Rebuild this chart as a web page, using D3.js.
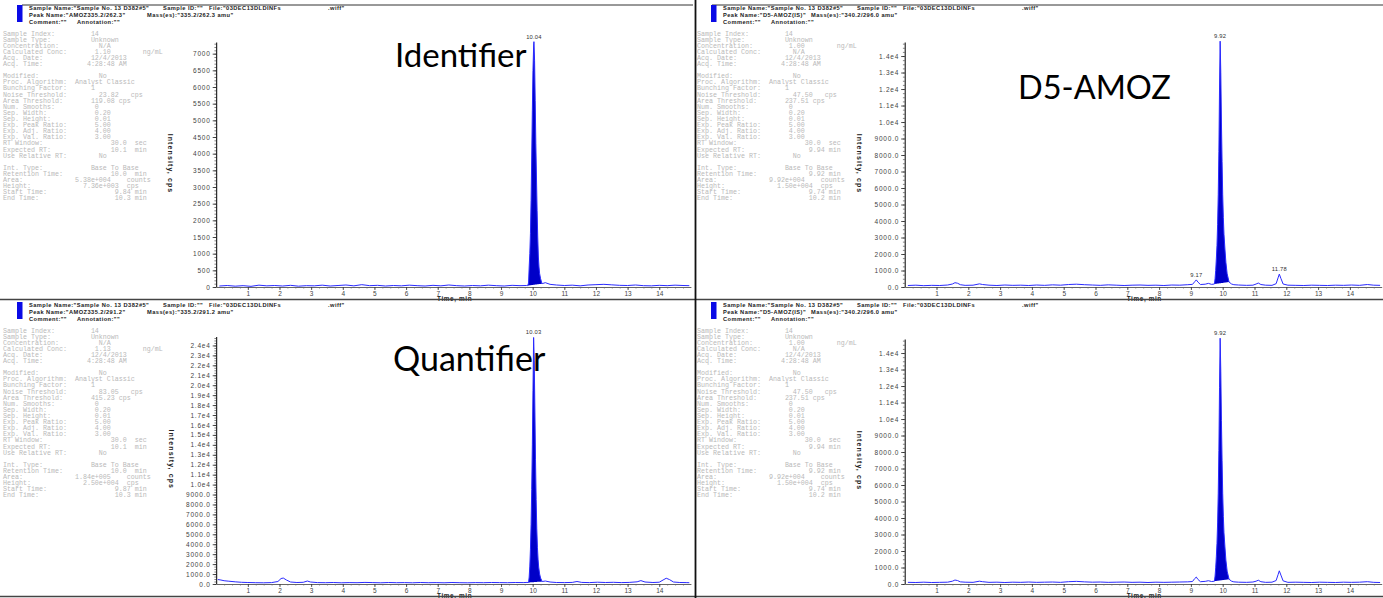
<!DOCTYPE html>
<html>
<head>
<meta charset="utf-8">
<script src="https://cdn.jsdelivr.net/npm/d3@7"></script>
<style>
  html, body { margin: 0; padding: 0; background: #fff; }
  svg { display: block; }
</style>
</head>
<body>
<svg id="chart" width="1383" height="598"></svg>
<script>
// ---------- chromatogram data: [time (min), intensity (cps)] ----------
const identifierTrace = [
  [0.10,30],[0.35,45],[0.60,25],[0.85,40],[1.10,20],[1.35,55],[1.60,35],[1.85,45],[2.10,30],[2.35,50],
  [2.60,25],[2.85,40],[3.10,35],[3.35,55],[3.60,30],[3.85,45],[4.10,60],[4.35,35],[4.60,70],[4.85,40],
  [5.10,50],[5.35,30],[5.60,45],[5.85,35],[6.10,55],[6.35,40],[6.60,30],[6.85,50],[7.10,35],[7.35,60],
  [7.60,40],[7.85,30],[8.10,45],[8.35,35],[8.60,55],[8.85,40],[9.10,30],[9.35,50],[9.60,40],[9.80,45],
  [9.84,40],[9.87,120],[9.89,600],[9.91,1000],[9.93,1600],[9.95,2600],[9.97,3900],[9.99,5300],[10.01,6500],
  [10.03,7200],[10.04,7360],[10.06,6800],[10.08,5600],[10.10,4300],[10.12,3300],[10.14,2300],[10.16,1500],
  [10.18,900],[10.20,600],[10.22,400],[10.25,250],[10.28,150],[10.30,100],
  [10.40,130],[10.55,80],[10.75,60],[11.00,45],[11.25,55],[11.50,35],[11.75,60],[12.00,70],[12.25,80],
  [12.50,65],[12.75,50],[13.00,45],[13.25,60],[13.50,40],[13.75,35],[14.00,50],[14.25,40],[14.50,55],
  [14.75,45],[14.95,40]
];
const d5TraceTop = [
  [0.10,90],[0.35,110],[0.60,80],[0.85,100],[1.10,90],[1.35,120],[1.50,180],[1.58,260],[1.66,230],[1.75,140],
  [1.90,100],[2.15,110],[2.35,190],[2.45,150],[2.65,110],[2.90,90],[3.15,120],[3.40,100],[3.65,110],[3.90,90],
  [4.15,120],[4.40,100],[4.65,130],[4.90,110],[5.15,150],[5.40,170],[5.65,140],[5.90,120],[6.15,100],[6.40,130],
  [6.65,110],[6.90,90],[7.15,110],[7.40,120],[7.65,100],[7.90,110],[8.15,90],[8.40,120],[8.65,110],[8.90,140],
  [9.05,160],[9.12,320],[9.17,430],[9.22,300],[9.30,150],[9.45,170],[9.55,220],[9.65,160],
  [9.74,180],[9.76,500],[9.78,1000],[9.80,1700],[9.82,2500],[9.84,3800],[9.86,5600],[9.88,8200],[9.90,12000],
  [9.92,14900],[9.94,13000],[9.96,10000],[9.98,7600],[10.00,5600],[10.02,4200],[10.04,3200],[10.07,2300],
  [10.10,1500],[10.14,800],[10.20,300],
  [10.28,180],[10.35,140],[10.50,120],[10.75,100],[10.95,110],[11.05,180],[11.12,240],[11.20,150],[11.35,110],
  [11.55,100],[11.68,200],[11.74,550],[11.78,780],[11.83,520],[11.90,180],[12.05,110],[12.30,100],[12.55,90],
  [12.80,110],[13.05,100],[13.30,90],[13.55,110],[13.80,100],[14.05,120],[14.30,100],[14.55,150],[14.75,110],
  [14.95,100]
];
const quantifierTrace = [
  [0.05,450],[0.15,400],[0.25,330],[0.40,280],[0.60,220],[0.80,170],[1.00,150],[1.25,130],[1.50,120],[1.75,140],
  [1.95,250],[2.05,550],[2.12,600],[2.22,400],[2.35,200],[2.55,150],[2.75,170],[2.88,300],[2.98,200],[3.20,140],
  [3.45,130],[3.70,150],[3.95,120],[4.20,140],[4.45,130],[4.70,160],[4.95,140],[5.20,120],[5.45,150],[5.70,130],
  [5.95,140],[6.20,120],[6.45,150],[6.70,130],[6.95,140],[7.20,120],[7.45,150],[7.70,130],[7.95,120],[8.20,140],
  [8.45,130],[8.70,150],[8.95,140],[9.20,130],[9.45,150],[9.70,140],[9.82,160],
  [9.87,150],[9.89,700],[9.91,1800],[9.93,3500],[9.95,6000],[9.97,9500],[9.99,14000],[10.01,19500],[10.03,24800],
  [10.05,22500],[10.07,17500],[10.09,12500],[10.11,8500],[10.13,5600],[10.15,3700],[10.17,2500],[10.19,1700],
  [10.22,1000],[10.25,600],[10.30,250],
  [10.40,300],[10.55,200],[10.75,150],[11.00,140],[11.25,160],[11.40,250],[11.55,160],[11.80,140],[12.05,180],
  [12.30,150],[12.55,170],[12.80,140],[13.05,160],[13.30,220],[13.42,340],[13.55,200],[13.80,150],[14.00,180],
  [14.12,400],[14.22,580],[14.32,450],[14.45,200],[14.65,150],[14.85,140],[14.95,130]
];
const d5TraceBottom = [
  [0.10,100],[0.35,90],[0.60,110],[0.85,90],[1.10,100],[1.35,110],[1.50,170],[1.58,240],[1.66,210],[1.75,130],
  [1.90,110],[2.15,100],[2.35,170],[2.45,140],[2.65,100],[2.90,110],[3.15,90],[3.40,110],[3.65,100],[3.90,120],
  [4.15,100],[4.40,110],[4.65,120],[4.90,100],[5.15,140],[5.40,160],[5.65,130],[5.90,110],[6.15,120],[6.40,100],
  [6.65,110],[6.90,120],[7.15,100],[7.40,110],[7.65,90],[7.90,110],[8.15,100],[8.40,110],[8.65,120],[8.90,130],
  [9.05,150],[9.12,330],[9.17,420],[9.22,280],[9.30,140],[9.45,160],[9.55,200],[9.65,150],
  [9.74,170],[9.76,480],[9.78,980],[9.80,1650],[9.82,2450],[9.84,3700],[9.86,5500],[9.88,8100],[9.90,11900],
  [9.92,14900],[9.94,12900],[9.96,9900],[9.98,7500],[10.00,5500],[10.02,4100],[10.04,3100],[10.07,2250],
  [10.10,1450],[10.14,780],[10.20,290],
  [10.28,170],[10.35,130],[10.50,110],[10.75,100],[10.95,120],[11.05,170],[11.12,230],[11.20,140],[11.35,100],
  [11.55,110],[11.68,210],[11.74,560],[11.78,800],[11.83,540],[11.90,190],[12.05,100],[12.30,110],[12.55,100],
  [12.80,90],[13.05,110],[13.30,100],[13.55,90],[13.80,110],[14.05,100],[14.30,110],[14.55,140],[14.75,100],
  [14.95,90]
];

// integrated peak windows (start, end in min)
const identifierPeak = [9.84, 10.30];
const d5PeakTop = [9.74, 10.20];
const quantifierPeak = [9.87, 10.30];
const d5PeakBottom = [9.74, 10.20];

// retention times annotated above peaks
const identifierPeakLabels = [10.04];
const d5PeakLabelsTop = [9.17, 9.92, 11.78];
const quantifierPeakLabels = [10.03];
const d5PeakLabelsBottom = [9.92];

// axis ticks
const timeTicks = [1,2,3,4,5,6,7,8,9,10,11,12,13,14];
const identifierYTicks = [0,500,1000,1500,2000,2500,3000,3500,4000,4500,5000,5500,6000,6500,7000];
const d5YTicks = [0,1000,2000,3000,4000,5000,6000,7000,8000,9000,10000,11000,12000,13000,14000];
const quantifierYTicks = [0,1000,2000,3000,4000,5000,6000,7000,8000,9000,10000,11000,12000,13000,14000,
  15000,16000,17000,18000,19000,20000,21000,22000,23000,24000];

// ---------- text blocks ----------
const row = (label, value, vcol, unit, ucol) => {
  let s = label.padEnd(vcol) + value;
  if (unit) s = s.padEnd(ucol) + unit;
  return s;
};
function infoLines(p) {
  return [
    row("Sample Index:", "14", 22),
    row("Sample Type:", "Unknown", 22),
    row("Concentration:", p.conc, p.conc === "N/A" ? 24 : 23, p.conc === "N/A" ? "" : "ng/mL", 35),
    row("Calculated Conc:", p.calc, p.calc === "N/A" ? 24 : 23, p.calc === "N/A" ? "" : "ng/mL", 35),
    row("Acq. Date:", "12/4/2013", 22),
    row("Acq. Time:", "4:28:48 AM", 21),
    "",
    row("Modified:", "No", 24),
    row("Proc. Algorithm:", "Analyst Classic", 18),
    row("Bunching Factor:", "1", 22),
    row("Noise Threshold:", p.noise, 24, "cps", 32),
    row("Area Threshold:", p.areaThr, 22, "cps", 29),
    row("Num. Smooths:", "0", 23),
    row("Sep. Width:", "0.20", 23),
    row("Sep. Height:", "0.01", 23),
    row("Exp. Peak Ratio:", "5.00", 23),
    row("Exp. Adj. Ratio:", "4.00", 23),
    row("Exp. Val. Ratio:", "3.00", 23),
    row("RT Window:", "30.0", 27, "sec", 33),
    row("Expected RT:", p.expRT, p.expRT[1] === "." ? 28 : 27, "min", 33),
    row("Use Relative RT:", "No", 24),
    "",
    row("Int. Type:", "Base To Base", 22),
    row("Retention Time:", p.rt, p.rt[1] === "." ? 28 : 27, "min", 33),
    row("Area:", p.area, 18, "counts", 31),
    row("Height:", p.height, 20, "cps", 31),
    row("Start Time:", p.start, 28, "min", 33),
    row("End Time:", p.end, 28, "min", 33)
  ];
}
const identifierInfo = infoLines({conc:"N/A", calc:"1.10", noise:"23.82", areaThr:"119.08", expRT:"10.1",
  rt:"10.0", area:"5.38e+004", height:"7.36e+003", start:"9.84", end:"10.3"});
const d5InfoTop = infoLines({conc:"1.00", calc:"N/A", noise:"47.50", areaThr:"237.51", expRT:"9.94",
  rt:"9.92", area:"9.92e+004", height:"1.50e+004", start:"9.74", end:"10.2"});
const quantifierInfo = infoLines({conc:"N/A", calc:"1.13", noise:"83.05", areaThr:"415.23", expRT:"10.1",
  rt:"10.0", area:"1.84e+005", height:"2.50e+004", start:"9.87", end:"10.3"});
const d5InfoBottom = infoLines({conc:"1.00", calc:"N/A", noise:"47.50", areaThr:"237.51", expRT:"9.94",
  rt:"9.92", area:"9.92e+004", height:"1.50e+004", start:"9.74", end:"10.2"});

const headerSampleName = 'Sample Name:"Sample No. 13 D382#5"';
const headerSampleId = 'Sample ID:""';
const headerFile = 'File:"03DEC13DLDINFs';
const headerFileExt = '.wiff"';
const headerComment = 'Comment:""';
const headerAnnotation = 'Annotation:""';

const plainFmt = d => String(d);
const expFmt = d => d >= 10000 ? (d / 10000).toFixed(1) + "e4" : d.toFixed(1);
const nbsp = s => s.replace(/ /g, "\u00A0");

// ---------- panel layout ----------
const panels = [
  { trace: identifierTrace, peak: identifierPeak, labels: identifierPeakLabels, yTicks: identifierYTicks,
    yFmt: plainFmt, yMax: 7350, minor: 100, info: identifierInfo, peakName: 'Peak Name:"AMOZ335.2/262.3"',
    mass: 'Mass(es):"335.2/262.3 amu"', massX: 147, title: "Identifier", titleSize: 33,
    tx: 0, oy: 0, x0: 216.2, x1: 690.9, yb: 287, yt: 42, ylabX: 168, titleX: 395, titleY: 67 },
  { trace: d5TraceTop, peak: d5PeakTop, labels: d5PeakLabelsTop, yTicks: d5YTicks,
    yFmt: expFmt, yMax: 14850, minor: 250, info: d5InfoTop, peakName: 'Peak Name:"D5-AMOZ(IS)"',
    mass: 'Mass(es):"340.2/296.0 amu"', massX: 117, title: "D5-AMOZ", titleSize: 32.5,
    tx: 694, oy: 0, x0: 904.7, x1: 1381.7, yb: 287, yt: 42, ylabX: 857, titleX: 1018, titleY: 99 },
  { trace: quantifierTrace, peak: quantifierPeak, labels: quantifierPeakLabels, yTicks: quantifierYTicks,
    yFmt: expFmt, yMax: 24900, minor: 250, info: quantifierInfo, peakName: 'Peak Name:"AMOZ335.2/291.2"',
    mass: 'Mass(es):"335.2/291.2 amu"', massX: 147, title: "Quantifier", titleSize: 34,
    tx: 0, oy: 297, x0: 216.2, x1: 690.9, yb: 584, yt: 336.5, ylabX: 169, titleX: 393, titleY: 371 },
  { trace: d5TraceBottom, peak: d5PeakBottom, labels: d5PeakLabelsBottom, yTicks: d5YTicks,
    yFmt: expFmt, yMax: 14850, minor: 250, info: d5InfoBottom, peakName: 'Peak Name:"D5-AMOZ(IS)"',
    mass: 'Mass(es):"340.2/296.0 amu"', massX: 117, title: null,
    tx: 694, oy: 297, x0: 904.7, x1: 1381.7, yb: 584, yt: 339, ylabX: 857 }
];

const svg = d3.select("#chart");
const SANS = "Liberation Sans, Arial, sans-serif";

// frame lines at the top of the two upper report pages
svg.append("line").attr("x1", 22).attr("x2", 693).attr("y1", 5).attr("y2", 5)
  .attr("stroke", "#333").attr("stroke-width", 1);
svg.append("line").attr("x1", 712).attr("x2", 1383).attr("y1", 5).attr("y2", 5)
  .attr("stroke", "#333").attr("stroke-width", 1);

panels.forEach(p => {
  const g = svg.append("g");

  // header block
  g.append("rect").attr("x", p.tx + 17).attr("y", p.oy + 5).attr("width", 5.5).attr("height", 17)
    .attr("fill", "#0a0ae6");
  const hdr = g.append("g").attr("font-family", SANS)
    .attr("font-size", 5.7).attr("font-weight", "bold").attr("fill", "#1a1a1a")
    .attr("letter-spacing", 0.45);
  const hx = p.tx + 29;
  hdr.append("text").attr("x", hx).attr("y", p.oy + 10).text(headerSampleName);
  hdr.append("text").attr("x", hx + 134).attr("y", p.oy + 10).text(headerSampleId);
  hdr.append("text").attr("x", hx + 180).attr("y", p.oy + 10).text(headerFile);
  hdr.append("text").attr("x", hx + 299).attr("y", p.oy + 10).text(headerFileExt);
  hdr.append("text").attr("x", hx).attr("y", p.oy + 17).text(p.peakName);
  hdr.append("text").attr("x", p.tx + p.massX).attr("y", p.oy + 17).text(p.mass);
  hdr.append("text").attr("x", hx).attr("y", p.oy + 23.5).text(headerComment);
  hdr.append("text").attr("x", hx + 48).attr("y", p.oy + 23.5).text(headerAnnotation);

  // parameter listing
  const info = g.append("g").attr("font-family", "Liberation Mono, monospace")
    .attr("font-size", 6.67).attr("fill", "#b9b9b9");
  p.info.forEach((line, i) => {
    info.append("text").attr("x", p.tx + 3).attr("y", p.oy + 35.5 + i * 6.11).text(nbsp(line));
  });

  // scales
  const x = d3.scaleLinear().domain([0, 15]).range([p.x0, p.x1]);
  const y = d3.scaleLinear().domain([0, p.yMax]).range([p.yb, p.yt]);

  // minor y ticks
  g.append("g").attr("transform", `translate(${p.x0},0)`)
    .call(d3.axisLeft(y).tickValues(d3.range(0, p.yMax, p.minor)).tickSize(1.8).tickFormat("").tickSizeOuter(0))
    .call(a => a.select(".domain").remove())
    .selectAll("line").attr("stroke", "#333").attr("stroke-width", 0.6);
  // major y ticks
  const ya = g.append("g").attr("transform", `translate(${p.x0},0)`)
    .call(d3.axisLeft(y).tickValues(p.yTicks).tickFormat(p.yFmt).tickSize(3.5).tickSizeOuter(0).tickPadding(2));
  ya.select(".domain").attr("stroke", "#000").attr("stroke-width", 1);
  ya.selectAll(".tick line").attr("stroke", "#222").attr("stroke-width", 0.8);
  ya.selectAll("text").attr("font-family", SANS).attr("font-size", 6.5)
    .attr("fill", "#444").attr("letter-spacing", 0.8);

  // minor x ticks
  g.append("g").attr("transform", `translate(0,${p.yb})`)
    .call(d3.axisBottom(x).tickValues(d3.range(0.25, 15, 0.25)).tickSize(1.5).tickFormat("").tickSizeOuter(0))
    .call(a => a.select(".domain").remove())
    .selectAll("line").attr("stroke", "#444").attr("stroke-width", 0.6);
  // major x ticks
  const xa = g.append("g").attr("transform", `translate(0,${p.yb})`)
    .call(d3.axisBottom(x).tickValues(timeTicks).tickFormat(d3.format("d")).tickSize(3).tickSizeOuter(0).tickPadding(1.5));
  xa.select(".domain").attr("stroke", "#666").attr("stroke-width", 1);
  xa.selectAll(".tick line").attr("stroke", "#333").attr("stroke-width", 0.8);
  xa.selectAll("text").attr("font-family", SANS).attr("font-size", 6.5).attr("fill", "#444");

  // axis titles
  g.append("text").attr("x", (p.x0 + p.x1) / 2 - 16.5).attr("y", p.yb + 13.5)
    .attr("font-family", SANS).attr("font-size", 6.4)
    .attr("font-weight", "bold").attr("fill", "#222").attr("letter-spacing", 0.6).text("Time, min");
  g.append("text").attr("transform", `translate(${p.ylabX},${(p.yb + p.yt) / 2 - 1}) rotate(90)`)
    .attr("text-anchor", "middle").attr("font-family", SANS)
    .attr("font-size", 7).attr("font-weight", "bold").attr("fill", "#222").attr("letter-spacing", 1.1)
    .text("Intensity, cps");

  // integrated peak area (base-to-base)
  const [ps, pe] = p.peak;
  const inPeak = p.trace.filter(d => d[0] >= ps && d[0] <= pe);
  const vs = inPeak[0][1], ve = inPeak[inPeak.length - 1][1];
  const base = t => vs + (ve - vs) * (t - ps) / (pe - ps);
  g.append("path").datum(inPeak)
    .attr("d", d3.area().x(d => x(d[0])).y0(d => y(base(d[0]))).y1(d => y(d[1])))
    .attr("fill", "#0000c8");

  // trace
  g.append("path").datum(p.trace)
    .attr("d", d3.line().x(d => x(d[0])).y(d => y(d[1])))
    .attr("fill", "none").attr("stroke", "#2a2aff").attr("stroke-width", 1);

  // retention time labels
  p.labels.forEach(t => {
    const pt = p.trace.find(d => Math.abs(d[0] - t) < 1e-6);
    g.append("text").attr("x", x(t)).attr("y", y(pt[1]) - 3).attr("text-anchor", "middle")
      .attr("font-family", SANS).attr("font-size", 5.8)
      .attr("fill", "#333").attr("letter-spacing", 0.2).text(t.toFixed(2));
  });

  // panel caption
  if (p.title) {
    g.append("text").attr("x", p.titleX).attr("y", p.titleY)
      .attr("font-family", "Lato, Carlito, sans-serif").attr("font-size", p.titleSize).attr("fill", "#000")
      .text(p.title);
  }
});

// separators between the report pages
svg.append("line").attr("x1", 0).attr("x2", 1383).attr("y1", 299.5).attr("y2", 299.5)
  .attr("stroke", "#444").attr("stroke-width", 1.6);
svg.append("line").attr("x1", 0).attr("x2", 1383).attr("y1", 596.5).attr("y2", 596.5)
  .attr("stroke", "#444").attr("stroke-width", 1.6);
svg.append("line").attr("x1", 695.5).attr("x2", 695.5).attr("y1", 0).attr("y2", 598)
  .attr("stroke", "#111").attr("stroke-width", 1.8);
</script>
</body>
</html>
